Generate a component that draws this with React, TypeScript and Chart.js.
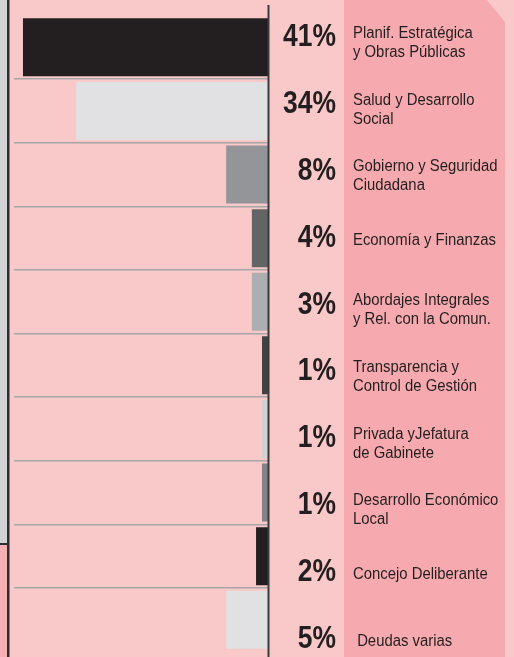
import React, { useEffect, useRef } from "react";
import { Chart, registerables } from "chart.js";

Chart.register(...registerables);

const categoryLines: string[][] = [
  ["Planif. Estratégica", "y Obras Públicas"],
  ["Salud y Desarrollo", "Social"],
  ["Gobierno y Seguridad", "Ciudadana"],
  ["Economía y Finanzas"],
  ["Abordajes Integrales", "y Rel. con la Comun."],
  ["Transparencia y", "Control de Gestión"],
  ["Privada yJefatura", "de Gabinete"],
  ["Desarrollo Económico", "Local"],
  ["Concejo Deliberante"],
  [" Deudas varias"],
];
const shares = [41, 34, 8, 4, 3, 1, 1, 1, 2, 5];
const barValues = [41, 32.1, 7, 2.7, 2.7, 1, 1, 1, 2, 7];
const barColors = [
  "#231f20", "#e1e1e3", "#949598", "#636466", "#adaeb1",
  "#414244", "#d0d1d3", "#808285", "#231f20", "#e1e1e3",
];
const categories = categoryLines.map((l) => l.join(" ").trim());

const PINK = "#f9c8c8";
const PINK_DARK = "#f6a9ae";
const INK = "#231f20";
const PCT_FONT = "bold 31.5px 'Liberation Sans', Arial, sans-serif";
const CAT_FONT = "17.3px 'Liberation Sans', Arial, sans-serif";
const PCT_SQUEEZE = 0.84;
const CAT_SQUEEZE = 0.86;

const backgroundPlugin = {
  id: "panelBackground",
  beforeDraw(chart: any) {
    const { ctx, width, height, chartArea } = chart;
    const r = chartArea.right;
    ctx.save();
    ctx.fillStyle = PINK;
    ctx.fillRect(0, 0, width, height);
    // left grey strip
    ctx.fillStyle = "#d1d3d4";
    ctx.fillRect(0, 0, 8, 544);
    ctx.fillStyle = "#f6afb3";
    ctx.fillRect(0, 545, 8, height - 545);
    ctx.fillStyle = "#2e2e30";
    ctx.fillRect(0, 543, 8, 2);
    ctx.fillRect(7, 0, 2.5, height);
    // darker pink column with cut corner
    ctx.fillStyle = PINK_DARK;
    ctx.beginPath();
    ctx.moveTo(r + 76, 0);
    ctx.lineTo(487, 0);
    ctx.lineTo(505, 22);
    ctx.lineTo(505, height);
    ctx.lineTo(r + 76, height);
    ctx.closePath();
    ctx.fill();
    ctx.restore();
  },
  afterDraw(chart: any) {
    const { ctx, height, chartArea } = chart;
    ctx.save();
    ctx.fillStyle = "#3a3a3c";
    ctx.fillRect(chartArea.right - 0.5, 5, 2, height - 5);
    ctx.restore();
  },
};

function squeezedText(ctx: any, text: string, x: number, y: number, sx: number) {
  ctx.save();
  ctx.translate(x, y);
  ctx.scale(sx, 1);
  ctx.fillText(text, 0, 0);
  ctx.restore();
}

const labelPlugin = {
  id: "rowLabels",
  afterDatasetsDraw(chart: any) {
    const { ctx, chartArea } = chart;
    const rows = chart.scales.rows;
    ctx.save();
    ctx.fillStyle = INK;
    ctx.textBaseline = "alphabetic";
    shares.forEach((s, i) => {
      const mid = rows.getPixelForValue(i);
      const base = mid + 11.3;
      ctx.font = PCT_FONT;
      ctx.textAlign = "right";
      squeezedText(ctx, s + "%", chartArea.right + 68, base, PCT_SQUEEZE);
      ctx.font = CAT_FONT;
      ctx.textAlign = "left";
      const lines = categoryLines[i];
      const x = chartArea.right + 85;
      if (lines.length === 1) {
        squeezedText(ctx, lines[0], x, base - 1.5, CAT_SQUEEZE);
      } else {
        squeezedText(ctx, lines[0], x, base - 8.5, CAT_SQUEEZE);
        squeezedText(ctx, lines[1], x, base + 10.5, CAT_SQUEEZE);
      }
    });
    ctx.restore();
  },
};

export default function App() {
  const canvasRef = useRef<HTMLCanvasElement | null>(null);

  useEffect(() => {
    if (!canvasRef.current) return;
    const n = categories.length;
    const chart = new Chart(canvasRef.current, {
      type: "bar",
      data: {
        labels: categories,
        datasets: [
          {
            data: barValues,
            backgroundColor: barColors,
            borderWidth: 0,
            barPercentage: 0.912,
            categoryPercentage: 1,
          },
        ],
      },
      options: {
        indexAxis: "y",
        animation: false,
        responsive: false,
        devicePixelRatio: 1,
        layout: { padding: { left: 14, right: 246, top: 15.5, bottom: 5.4 } },
        plugins: { legend: { display: false }, tooltip: { enabled: false } },
        scales: {
          x: {
            type: "linear",
            display: false,
            reverse: true,
            min: 0,
            max: 42.5,
          },
          y: {
            type: "category",
            position: "right",
            offset: true,
            ticks: { display: false },
            border: { display: false },
            grid: {
              offset: true,
              drawTicks: false,
              tickLength: 0,
              lineWidth: 1.6,
              color: (c: any) =>
                typeof c.index === "number" && c.index > 0 && c.index < n ? "#a6a6a8" : "rgba(0,0,0,0)",
            },
          },
          rows: {
            type: "linear",
            axis: "y",
            position: "left",
            display: false,
            offset: false,
            bounds: "data",
            grace: 0,
            reverse: true,
            min: -0.292,
            max: 9.23,
            grid: { display: false, offset: false },
          },
        },
      },
      plugins: [backgroundPlugin, labelPlugin],
    } as any);
    return () => chart.destroy();
  }, []);

  return (
    <div style={{ position: "fixed", left: 0, top: 0, width: 514, height: 657 }}>
      <canvas ref={canvasRef} width={514} height={657} style={{ display: "block" }} />
    </div>
  );
}
